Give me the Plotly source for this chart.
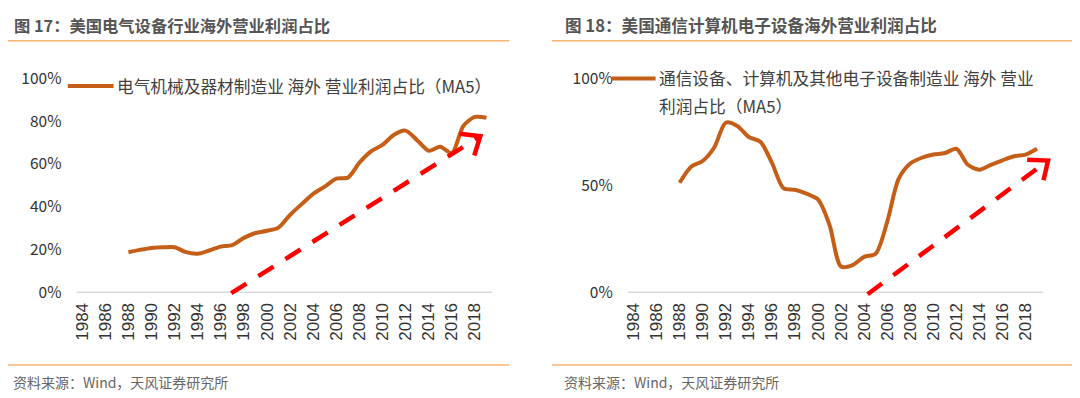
import math
import plotly.graph_objects as go

# ---------------- data ----------------
years = list(range(1988, 2020))
left_values = [0.187, 0.198, 0.207, 0.210, 0.210, 0.187, 0.180, 0.195, 0.213, 0.220,
               0.254, 0.277, 0.287, 0.302, 0.362, 0.412, 0.460, 0.494, 0.531, 0.536,
               0.606, 0.659, 0.689, 0.737, 0.756, 0.711, 0.662, 0.681, 0.651, 0.778,
               0.820, 0.816]
right_values = [0.512, 0.587, 0.614, 0.677, 0.793, 0.778, 0.726, 0.704, 0.606, 0.487,
                0.479, 0.461, 0.434, 0.314, 0.120, 0.127, 0.165, 0.180, 0.329, 0.531,
                0.602, 0.629, 0.644, 0.651, 0.671, 0.596, 0.573, 0.596, 0.617, 0.636,
                0.644, 0.671]
year_ticks = list(range(1984, 2019, 2))
year_tick_labels = [str(y) for y in year_ticks]
left_y_ticks = [0, 0.2, 0.4, 0.6, 0.8, 1.0]
left_y_labels = ["0%", "20%", "40%", "60%", "80%", "100%"]
right_y_ticks = [0, 0.5, 1.0]
right_y_labels = ["0%", "50%", "100%"]

left_arrow_x = [1996.9, 2018.47]
left_arrow_y = [-0.005, 0.73]
right_arrow_x = [2004.3, 2019.95]
right_arrow_y = [-0.01, 0.616]

left_title = "图 17：美国电气设备行业海外营业利润占比"
right_title = "图 18：美国通信计算机电子设备海外营业利润占比"
left_legend = "电气机械及器材制造业 海外 营业利润占比（MA5）"
right_legend_1 = "通信设备、计算机及其他电子设备制造业 海外 营业"
right_legend_2 = "利润占比（MA5）"
source_text = "资料来源：Wind，天风证券研究所"

# ---------------- styling / layout ----------------
W, H = 1080, 398
OFF = 8  # page body margin
LINE_COLOR = "#C55F17"
RED = "#FF0000"
ORANGE_RULE = "#F8B470"
CJK = "Noto Sans CJK SC"
TICK_COLOR = "#333333"


def py(p):  # screen pixel row -> paper y
    return (H - (p - OFF)) / H


def px(p):  # screen pixel column -> paper x
    return (p - OFF) / W


Y_RANGE = [-0.03, 1.0]
YSCALE = 222.6  # px per unit
y_dom = [py(290.5 + 0.03 * YSCALE), py(290.5 - 1.0 * YSCALE)]

L_X0, L_X1 = 72.7, 490.0
R_X0, R_X1 = 626.0, 1042.7
L_XS = (L_X1 - L_X0) / 36
R_XS = (R_X1 - R_X0) / 36

fig = go.Figure()

fig.add_trace(go.Scatter(x=years, y=left_values, mode="lines",
                         line=dict(color=LINE_COLOR, width=4, shape="spline", smoothing=0.8),
                         xaxis="x", yaxis="y", showlegend=False, hoverinfo="skip"))
fig.add_trace(go.Scatter(x=years, y=right_values, mode="lines",
                         line=dict(color=LINE_COLOR, width=4, shape="spline", smoothing=0.8),
                         xaxis="x2", yaxis="y2", showlegend=False, hoverinfo="skip"))


def chevron(xs, ys, xscale, yscale, length=21, ang_deg=40):
    dx = (xs[1] - xs[0]) * xscale
    dy = (ys[1] - ys[0]) * yscale
    n = math.hypot(dx, dy)
    bx, by = -dx / n, -dy / n
    pts_x, pts_y = [], []
    for sgn in (1, -1):
        a = math.radians(ang_deg) * sgn
        ux = bx * math.cos(a) - by * math.sin(a)
        uy = bx * math.sin(a) + by * math.cos(a)
        pts_x.append(xs[1] + ux * length / xscale)
        pts_y.append(ys[1] + uy * length / yscale)
    return [pts_x[0], xs[1], pts_x[1]], [pts_y[0], ys[1], pts_y[1]]


for ax_x, ax_y, xs, ys, xscale in (("x", "y", left_arrow_x, left_arrow_y, L_XS),
                                   ("x2", "y2", right_arrow_x, right_arrow_y, R_XS)):
    fig.add_trace(go.Scatter(x=xs, y=ys, mode="lines", line=dict(color=RED, width=4.5, dash="18px,14px"),
                             xaxis=ax_x, yaxis=ax_y, showlegend=False, hoverinfo="skip"))
    cx, cy = chevron(xs, ys, xscale, YSCALE)
    fig.add_trace(go.Scatter(x=cx, y=cy, mode="lines", line=dict(color=RED, width=4.5),
                             xaxis=ax_x, yaxis=ax_y, showlegend=False, hoverinfo="skip"))

xaxis_common = dict(tickmode="array", tickvals=year_ticks, ticktext=year_tick_labels, tickangle=-90,
                    showgrid=False, zeroline=False, showline=False, ticks="",
                    tickfont=dict(family="Liberation Sans", size=17, color=TICK_COLOR))
yaxis_common = dict(range=Y_RANGE, domain=y_dom, showgrid=False, zeroline=False, showline=False, ticks="",
                    tickmode="array", tickfont=dict(family=CJK, size=15.5, color=TICK_COLOR), ticklabelstandoff=14)

fig.update_layout(
    width=W, height=H, margin=dict(l=0, r=0, t=0, b=0),
    paper_bgcolor="white", plot_bgcolor="white",
    xaxis=dict(domain=[px(L_X0), px(L_X1)], range=[1983.5, 2019.5], anchor="y", **xaxis_common),
    yaxis=dict(anchor="x", tickvals=left_y_ticks, ticktext=left_y_labels, **yaxis_common),
    xaxis2=dict(domain=[px(R_X0), px(R_X1 + R_XS)], range=[1983.5, 2020.5], anchor="y2", **xaxis_common),
    yaxis2=dict(anchor="x2", tickvals=right_y_ticks, ticktext=right_y_labels, **yaxis_common),
)

shapes = [
    # baselines
    dict(type="line", xref="x", yref="y", x0=1983.5, x1=2019.5, y0=0, y1=0, line=dict(color="#D9D9D9", width=1.5), layer="below"),
    dict(type="line", xref="x2", yref="y2", x0=1983.5, x1=2019.5, y0=0, y1=0, line=dict(color="#D9D9D9", width=1.5), layer="below"),
    # title / source rules
    dict(type="line", xref="paper", yref="paper", x0=px(0), x1=px(507), y0=py(28.5), y1=py(28.5), line=dict(color=ORANGE_RULE, width=1.5)),
    dict(type="line", xref="paper", yref="paper", x0=px(550), x1=px(1080), y0=py(28.5), y1=py(28.5), line=dict(color=ORANGE_RULE, width=1.5)),
    dict(type="line", xref="paper", yref="paper", x0=px(0), x1=px(507), y0=py(366.5), y1=py(366.5), line=dict(color=ORANGE_RULE, width=1.5)),
    dict(type="line", xref="paper", yref="paper", x0=px(550), x1=px(1080), y0=py(366.5), y1=py(366.5), line=dict(color=ORANGE_RULE, width=1.5)),
    # legend samples
    dict(type="line", xref="paper", yref="paper", x0=px(64), x1=px(110), y0=py(75.7), y1=py(75.7), line=dict(color=LINE_COLOR, width=4)),
    dict(type="line", xref="paper", yref="paper", x0=px(610), x1=px(654), y0=py(68), y1=py(68), line=dict(color=LINE_COLOR, width=4)),
]
fig.update_layout(shapes=shapes)


def ann(text, x, y, size, color, bold=False, family=CJK):
    if bold:
        text = "<b>" + text + "</b>"
    return dict(text=text, xref="paper", yref="paper", x=px(x), y=py(y), xanchor="left", yanchor="middle",
                showarrow=False, font=dict(family=family, size=size, color=color))


fig.update_layout(annotations=[
    ann(left_title, 8, 12.5, 16.3, "#555555", bold=True),
    ann(right_title, 561, 12.5, 16.6, "#555555", bold=True),
    ann(left_legend, 111, 76, 16.7, "#404040"),
    ann(right_legend_1, 655, 67.5, 16.7, "#404040"),
    ann(right_legend_2, 655, 97, 16.7, "#404040"),
    ann(source_text, 7, 384.5, 14, "#666666"),
    ann(source_text, 560, 384.5, 14, "#666666"),
])

fig.write_html("out.html")
